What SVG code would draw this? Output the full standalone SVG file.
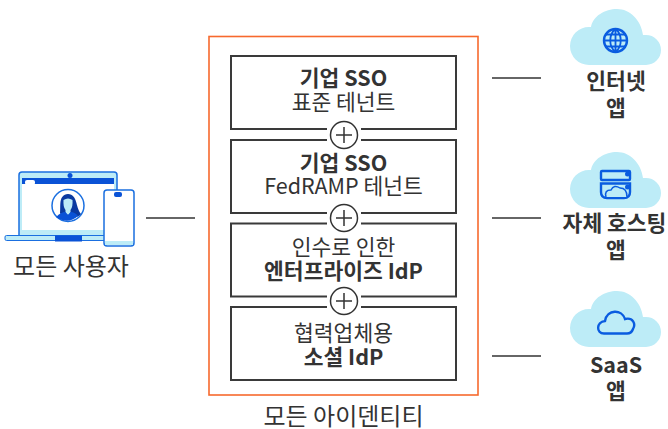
<svg xmlns="http://www.w3.org/2000/svg" width="668" height="429" viewBox="0 0 668 429">
<style>
text{font-family:"Noto Sans CJK KR","Noto Sans",sans-serif;fill:#333;text-anchor:middle;font-size:21.500px}
.b{font-weight:700}
.lg{font-size:24px}
.box{fill:#fff;stroke:#3a3a3a;stroke-width:2}
.plus{fill:#fff;stroke:#333;stroke-width:1.500}
.line{stroke:#333;stroke-width:1.500;fill:none}
.cloud{fill:#bdecf7}
.ic{fill:none;stroke:#0a5ce0;stroke-width:2.400}
</style>
<defs>
<path id="cl" d="M19 56A19 19 0 0 1 19 18L21 18C23 7 35 0 47 0C60 0 71 11 73 26L76 26A15 15 0 0 1 76 56Z"/>
</defs>
<rect id="frame" x="209" y="36.500" width="269" height="358.500" fill="#fff" stroke="#f7692d" stroke-width="1.600"/>
<g id="connectors">
<line class="line" x1="146" y1="218" x2="195" y2="218"/>
<line class="line" x1="492" y1="78" x2="541" y2="78"/>
<line class="line" x1="492" y1="218" x2="541" y2="218"/>
<line class="line" x1="492" y1="356" x2="541" y2="356"/>
</g>
<g id="box1"><rect class="box" x="231" y="56" width="225" height="73"/>
<text class="b" x="343.500" y="86">기업 SSO</text><text x="343.500" y="110">표준 테넌트</text></g>
<g id="box2"><rect class="box" x="231" y="140" width="225" height="73"/>
<text class="b" x="343.500" y="171">기업 SSO</text><text x="343.500" y="194">FedRAMP 테넌트</text></g>
<g id="box3"><rect class="box" x="231" y="223.500" width="225" height="73"/>
<text x="343.500" y="255">인수로 인한</text><text class="b" x="343.500" y="279">엔터프라이즈 IdP</text></g>
<g id="box4"><rect class="box" x="231" y="307" width="225" height="73"/>
<text x="343.500" y="341">협력업체용</text><text class="b" x="343.500" y="365">소셜 IdP</text></g>
<g id="plus1"><rect x="327" y="126" width="34" height="18" fill="#fff"/><circle class="plus" cx="344" cy="135" r="13.500"/><path class="plus" d="M344 127V143M336 135H352"/></g>
<g id="plus2"><rect x="327" y="209" width="34" height="18" fill="#fff"/><circle class="plus" cx="344" cy="218" r="13.500"/><path class="plus" d="M344 210V226M336 218H352"/></g>
<g id="plus3"><rect x="327" y="292.500" width="34" height="18" fill="#fff"/><circle class="plus" cx="344" cy="301" r="13.500"/><path class="plus" d="M344 293V309M336 301H352"/></g>
<text id="frame-label" class="lg" x="343.500" y="425">모든 아이덴티티</text>
<g id="users">
<rect x="19" y="172" width="98" height="66" rx="3" fill="#bdecf7" stroke="#1a6fe0" stroke-width="1.500"/>
<rect x="22" y="178" width="92" height="52" fill="#fff"/>
<rect x="22" y="178" width="92" height="6" fill="#0a52d6"/>
<rect x="25" y="180" width="10" height="5" rx="2" fill="#fff"/>
<circle cx="70" cy="175.500" r="2.500" fill="#0a52d6"/>
<rect x="5" y="235.500" width="102" height="5" rx="1.500" fill="#bdecf7" stroke="#1a6fe0" stroke-width="1"/>
<rect x="55" y="235.500" width="27" height="6" fill="#0a52d6"/>
<circle cx="68" cy="205.500" r="16" fill="#fff" stroke="#1a6fe0" stroke-width="1.500"/>
<path d="M60 213C61 206 58 195 68 194C78 195 75 206 81 214C78 219 62 219 60 213Z" fill="#0a3aa0"/>
<path d="M63.500 200Q68 197 72.500 200Q73 207 70.500 210V213L68 215L65.500 213V210Q63 207 63.500 200Z" fill="#bdecf7"/>
<path d="M56 217Q61 212 65.500 212L68 215L70.500 212Q75 212 78 216Q68 225 56 217Z" fill="#0a52d6"/>
<rect x="104" y="190" width="30" height="56" rx="3" fill="#fff" stroke="#1a6fe0" stroke-width="1.500"/>
<rect x="105" y="241" width="28" height="4" fill="#bdecf7"/>
<rect x="114" y="192" width="8" height="5" rx="2" fill="#0a52d6"/>
<text class="lg" x="71" y="275">모든 사용자</text>
</g>
<g id="internet">
<use href="#cl" class="cloud" x="570" y="9"/>
<circle class="ic" cx="615.500" cy="40.500" r="11.500"/>
<path class="ic" style="stroke-width:1.800" d="M604 40.500H627M605.500 34.500H625.500M605.500 46.500H625.500M615.500 29V52M615.500 29C608.500 34.500 608.500 46.500 615.500 52M615.500 29C622.500 34.500 622.500 46.500 615.500 52"/>
<text class="b" x="616" y="89">인터넷</text><text class="b" x="616" y="116">앱</text>
</g>
<g id="selfhosted">
<use href="#cl" class="cloud" x="570" y="152"/>
<rect class="ic" x="601" y="171" width="29" height="9" rx="1"/>
<path class="ic" d="M601 183.500H630V192Q630 198 624 198H607Q601 198 601 192Z"/>
<path d="M606 197Q604 190 611 190Q614 184 620 188Q627 188 627 197" fill="#bdecf7" stroke="#0a5ce0" stroke-width="1.500"/>
<circle cx="627.500" cy="174" r="2.500" fill="#0a5ce0"/><circle cx="627.500" cy="187" r="2.500" fill="#0a5ce0"/>
<text class="b" x="614.500" y="231">자체 호스팅</text><text class="b" x="616" y="258">앱</text>
</g>
<g id="saas">
<use href="#cl" class="cloud" x="570" y="291"/>
<path class="ic" d="M604 333.500C596 333.500 596 322 605 321C607 309 622 309 625 319C633 317 636 324 633 329C632 332 630 333.500 627 333.500Z"/>
<text class="b" x="616" y="373">SaaS</text><text class="b" x="616" y="399">앱</text>
</g>
</svg>
